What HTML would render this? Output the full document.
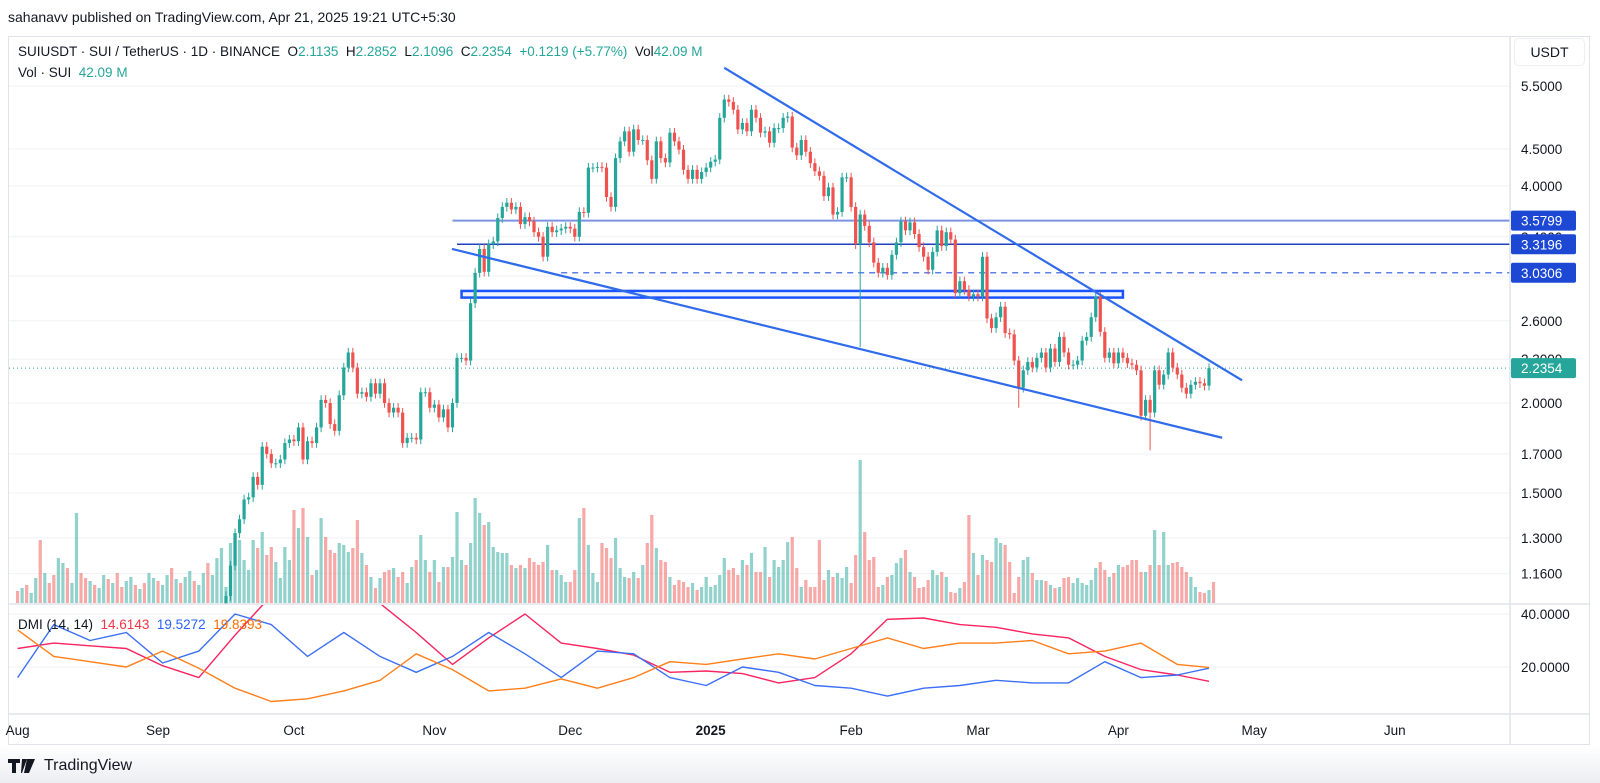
<!DOCTYPE html>
<html><head><meta charset="utf-8">
<style>
html,body{margin:0;padding:0;background:#fff;}
body{width:1600px;height:783px;overflow:hidden;position:relative;font-family:"Liberation Sans",Arial,sans-serif;color:#131722;}
.hdr{position:absolute;left:8px;top:9px;font-size:14px;color:#131722;}
.frame{position:absolute;left:8px;top:36px;width:1582px;height:709px;border:1px solid #e0e3eb;box-sizing:border-box;}
.leg{position:absolute;left:18px;font-size:13.5px;white-space:nowrap;}
.g{color:#26a69a}
.footer{position:absolute;left:0;top:745px;width:1600px;height:38px;background:linear-gradient(#fff,#eceef2);}
.tvlogo{position:absolute;left:8px;top:757px;font-size:16px;display:flex;align-items:center;gap:6px;}
.usdt{position:absolute;left:1514px;top:38px;width:71px;height:28px;border:1px solid #eceef2;border-radius:5px;box-sizing:border-box;font-size:14px;text-align:center;line-height:27px;background:#fff;}
</style></head>
<body>
<div class="hdr">sahanavv published on TradingView.com, Apr 21, 2025 19:21 UTC+5:30</div>
<div class="frame"></div>
<svg id="chart" width="1600" height="783" style="position:absolute;left:0;top:0" xmlns="http://www.w3.org/2000/svg">
<defs>
<clipPath id="mainClip"><rect x="9" y="37" width="1501" height="567"/></clipPath>
<clipPath id="dmiClip"><rect x="9" y="605" width="1501" height="109"/></clipPath>
</defs>
<g id="grid"></g>
<g id="vol" clip-path="url(#mainClip)"></g>
<g id="lev" clip-path="url(#mainClip)"></g>
<g id="cand" clip-path="url(#mainClip)"></g>
<g id="draw" clip-path="url(#mainClip)"></g>
<g id="dmi" clip-path="url(#dmiClip)"></g>
<g id="axis"></g>
</svg>
<div class="leg" style="top:44px">SUIUSDT · SUI / TetherUS · 1D · BINANCE&nbsp; O<span class="g">2.1135</span>&nbsp; H<span class="g">2.2852</span>&nbsp; L<span class="g">2.1096</span>&nbsp; C<span class="g">2.2354</span>&nbsp; <span class="g">+0.1219 (+5.77%)</span>&nbsp; Vol<span class="g">42.09 M</span></div>
<div class="leg" style="top:65px">Vol · SUI&nbsp; <span class="g">42.09 M</span></div>
<div class="leg" style="top:617px;font-size:13.5px">DMI (14, 14)&nbsp; <span style="color:#f23645">14.6143</span>&nbsp; <span style="color:#2962ff">19.5272</span>&nbsp; <span style="color:#ff6d00">19.8393</span></div>
<div class="usdt">USDT</div>
<div class="footer"></div>
<div class="tvlogo"><svg width="30" height="14" viewBox="0 0 30 14"><path d="M0 0h12v4H8v10H4V4H0z M14 0h5l-5 14h-1z" fill="#131722"/><circle cx="17" cy="3" r="0"/><path d="M19 0h8l-6 14h-5z" fill="#131722"/></svg><span>TradingView</span></div>
<script>
// ---- data ----
const closes=[1.08,1.19,1.32,1.38,1.47,1.48,1.58,1.54,1.74,1.70,
1.65,1.65,1.67,1.76,1.78,1.77,1.85,1.67,1.77,1.76,
1.85,2.02,2.00,1.87,1.83,2.05,2.24,2.35,2.24,2.06,
2.07,2.04,2.13,2.06,2.13,2.00,1.94,1.97,1.94,1.76,
1.79,1.79,1.78,2.07,2.07,1.97,1.99,1.91,1.96,1.85,
2.00,2.31,2.31,2.29,2.75,3.03,3.27,3.04,3.32,3.35,
3.61,3.74,3.79,3.71,3.74,3.54,3.62,3.57,3.45,3.40,
3.19,3.51,3.45,3.47,3.49,3.51,3.49,3.40,3.68,3.67,
4.24,4.24,4.25,4.24,3.86,3.74,4.37,4.61,4.76,4.46,
4.79,4.63,4.63,4.34,4.09,4.61,4.37,4.31,4.74,4.61,
4.49,4.21,4.09,4.21,4.09,
4.18,4.24,4.32,4.35,4.97,5.27,5.23,5.10,4.79,4.89,
4.76,5.10,4.97,4.74,4.76,4.59,4.81,4.81,4.97,4.99,
4.52,4.41,4.63,4.46,4.30,4.19,4.13,3.87,3.98,3.65,
3.68,4.11,4.11,3.74,3.32,3.65,3.52,3.34,3.13,3.03,
3.08,3.01,3.21,3.34,3.57,3.47,3.56,3.43,3.29,3.19,
3.06,3.24,3.47,3.30,3.45,3.37,2.84,2.95,2.87,2.81,
2.83,2.81,3.19,2.62,2.54,2.63,2.72,2.50,2.49,2.29,
2.10,2.22,2.28,2.24,2.31,2.35,2.24,2.38,2.28,2.47,
2.35,2.26,2.26,2.29,2.44,2.47,2.63,2.81,2.51,2.31,
2.35,2.27,2.35,2.31,2.27,2.26,2.22,1.92,2.02,1.94,
2.22,2.12,2.19,2.35,2.24,2.19,2.10,2.06,2.12,2.14,
2.13,2.1135,2.2354];
const firstDay=46; // Sep 16 (days since Aug 1)
const firstOpen=1.02;
const wickIdx=[140,175,204];
const wickLow=[2.39,1.97,1.72];
const earlyVolumes=[24,30,36,20,50,126,60,40,56,90,80,70,40,180,60,50,44,36,30,56,48,40,60,32,44,52,36,28,40,60,50,44,36,56,70,48,40,52,64,44,36,60,80,56,90,110];
const earlyUp=[0,1,0,1,1,0,1,0,0,1,1,0,1,1,0,0,1,0,1,1,0,1,0,0,1,1,0,1,0,1,1,0,1,1,0,1,0,1,1,0,1,1,0,1,1,1];
const volumes=[32,120,140,126,86,66,126,110,142,96,112,82,50,112,86,186,150,190,132,56,66,170,132,106,100,120,116,102,110,166,100,76,52,30,50,62,66,70,52,62,40,72,86,136,86,62,86,42,72,72,92,182,86,76,120,210,180,156,162,112,102,100,100,76,70,76,70,90,82,76,82,116,66,66,56,42,42,66,170,190,116,60,42,120,110,90,130,70,52,50,62,50,76,120,176,110,86,82,52,36,46,42,32,40,26,
32,52,32,36,56,90,66,70,56,86,76,100,62,62,112,52,86,72,86,122,132,70,32,46,32,32,126,46,66,52,60,50,72,40,96,286,142,86,92,32,36,52,56,80,90,106,62,52,30,32,46,66,56,62,52,22,20,30,42,176,100,56,96,86,82,130,120,116,82,20,52,86,92,60,46,46,44,36,30,32,50,52,40,50,40,36,46,70,82,66,52,60,76,72,76,86,86,62,62,76,146,76,142,76,80,82,72,62,52,32,22,20,26,42];
const dmiDays=[0,8,16,24,32,40,48,56,64,72,80,88,96,104,112,120,128,136,144,152,160,168,176,184,192,200,208,216,224,232,240,248,256,263];
const adx=[34,24,22,20,26,19.5,12,7,8,11,15,25,19,11,12,15.5,12,16,22,21,23,25,23,27,31,27,29,29,30,25,26,29,21,19.84];
const plusDI=[16,36,30,33,21.5,26,40,36,24,33,24,18,24,33,25,16,26,25,16,13,20,18,13,12,9,12,13,15,14,14,22,16,17,19.53];
const minusDI=[27,29,28,27,20.5,16,32,47,54,52,44,33,21,31,40,29,27,24.5,18,18.5,17.5,14,16,25,38,38.5,36,35,32.5,31,24,19,17,14.61];
const priceTicks=[5.5,4.5,4.0,3.4,3.0,2.6,2.3,2.0,1.7,1.5,1.3,1.16];
const dmiTicks=[40,20];
const monthLabels=["Aug","Sep","Oct","Nov","Dec","2025","Feb","Mar","Apr","May","Jun"];
const monthDays=[0,31,61,92,122,153,184,212,243,273,304];
const levelPrices=[3.5799,3.3196,3.0306];
const levelStartDays=[96,97,120];
const zoneTop=2.86, zoneBottom=2.80, zoneStartDay=98, zoneEndDay=244;
const upperLineDays=[156,270.3], upperLinePrices=[5.83,2.15];
const lowerLineDays=[95.9,265.9], lowerLinePrices=[3.27,1.79];
const lastPrice=2.2354;

// ---- scales ----
const xDay=d=>17.6+4.53*d;
const yP=p=>403-313.3*Math.log(p/2);
const yD=v=>720-2.65*v;
const yV=v=>603-v*0.5;
const NS="http://www.w3.org/2000/svg";
function mk(parent,tag,attrs){const e=document.createElementNS(NS,tag);for(const k in attrs)e.setAttribute(k,attrs[k]);document.getElementById(parent).appendChild(e);return e;}
const UP="#26a69a",DN="#ef5350";

// grid + price axis
priceTicks.forEach(p=>{
  const y=yP(p);
  const l=mk('grid','line',{x1:9,x2:1510,y1:y,y2:y,stroke:'#f0f2f5','stroke-width':1});
  
  
  const t=mk('axis','text',{x:1521,y:y+5,'font-size':'13.5','font-family':'Liberation Sans, sans-serif',fill:'#131722'});
  t.textContent=p.toFixed(4);
  
  
});
dmiTicks.forEach(v=>{
  const y=yD(v);
  const l=mk('grid','line',{x1:9,x2:1510,y1:y,y2:y,stroke:'#f0f2f5','stroke-width':1});
  
  
  const t=mk('axis','text',{x:1521,y:y+5,'font-size':'13.5','font-family':'Liberation Sans, sans-serif',fill:'#131722'});
  t.textContent=v.toFixed(4);
  
  
});
// separators
[[9,1590,604,604],[9,1590,714,714],[1510,1510,37,745]].forEach(s=>{
  const l=mk('axis','line',{x1:s[0],x2:s[1],y1:s[2],y2:s[3],stroke:'#e0e3eb','stroke-width':1.5});
  
  
});
// time axis
monthLabels.forEach((m,i)=>{
  const t=mk('axis','text',{x:xDay(monthDays[i]),y:735,'font-size':'13.5','text-anchor':'middle','font-family':'Liberation Sans, sans-serif',fill:'#131722','font-weight':m==='2025'?'bold':'normal'});
  t.textContent=m;
  
  
});

// volumes
earlyVolumes.forEach((v,i)=>{
  const x=xDay(i);
  const r=mk('vol','rect',{x:x-1.6,y:yV(v),width:3.2,height:603-yV(v),fill:earlyUp[i]?'rgba(38,166,154,0.5)':'rgba(239,83,80,0.5)'});
  
  
});
volumes.forEach((v,i)=>{
  const o=i?closes[i-1]:firstOpen, c=closes[i];
  const x=xDay(firstDay+i);
  const r=mk('vol','rect',{x:x-1.6,y:yV(v),width:3.2,height:603-yV(v),fill:c>=o?'rgba(38,166,154,0.5)':'rgba(239,83,80,0.5)'});
  
  
});

// levels
const levStyles=[{s:'#7b93e0',w:2,d:''},{s:'#1f3fbf',w:1.5,d:''},{s:'#5d7fe6',w:1.5,d:'6 5'}];
levelPrices.forEach((p,i)=>{
  const y=yP(p);
  const l=mk('lev','line',{x1:xDay(levelStartDays[i]),x2:1510,y1:y,y2:y,stroke:levStyles[i].s,'stroke-width':levStyles[i].w,'stroke-dasharray':levStyles[i].d});
  
  
});
const zr=mk('lev','rect',{x:xDay(zoneStartDay),y:yP(zoneTop),width:xDay(zoneEndDay)-xDay(zoneStartDay),height:yP(zoneBottom)-yP(zoneTop),fill:'rgba(41,98,255,0.08)',stroke:'#1a53ff','stroke-width':2.5});


const lp=mk('lev','line',{x1:9,x2:1510,y1:yP(lastPrice),y2:yP(lastPrice),stroke:'#26a69a','stroke-width':1,'stroke-dasharray':'1 3'});



// candles
closes.forEach((c,i)=>{
  const o=i?closes[i-1]:firstOpen;
  const up=c>=o, col=up?UP:DN;
  const x=xDay(firstDay+i);
  let hi=Math.max(o,c)*1.015, lo=Math.min(o,c)*0.985;
  const wi=wickIdx.indexOf(i); if(wi>=0) lo=wickLow[wi];
  const w=mk('cand','line',{x1:x,x2:x,y1:yP(hi),y2:yP(lo),stroke:col,'stroke-width':1});
  
  
  const yt=yP(Math.max(o,c)), yb=yP(Math.min(o,c));
  const b=mk('cand','rect',{x:x-1.6,y:yt,width:3.2,height:Math.max(1,yb-yt),fill:col});
  
  
});

// trendlines
[[upperLineDays,upperLinePrices,'upper-trendline'],[lowerLineDays,lowerLinePrices,'lower-trendline']].forEach(t=>{
  const l=mk('draw','line',{x1:xDay(t[0][0]),y1:yP(t[1][0]),x2:xDay(t[0][1]),y2:yP(t[1][1]),stroke:'#2f6bea','stroke-width':2.2});
  
  
});

// DMI
[[minusDI,'#f7245f','minus-di-line'],[plusDI,'#3b6ff5','plus-di-line'],[adx,'#ff7f1a','adx-line']].forEach(s=>{
  const pts=s[0].map((v,i)=>xDay(dmiDays[i]).toFixed(1)+','+yD(v).toFixed(1)).join(' ');
  const pl=mk('dmi','polyline',{points:pts,fill:'none',stroke:s[1],'stroke-width':1.4,'stroke-linejoin':'round'});
  
  
});

// price label boxes
const boxes=[[3.5799,'#1c48d4'],[3.3196,'#1c48d4'],[3.0306,'#1c48d4'],[2.2354,'#26a69a']];
boxes.forEach(b=>{
  const y=yP(b[0]);
  const r=mk('axis','rect',{x:1511,y:y-10,width:65,height:20,rx:2,fill:b[1]});
  
  
  const t=mk('axis','text',{x:1521,y:y+5,'font-size':'13.5','font-family':'Liberation Sans, sans-serif',fill:'#fff'});
  t.textContent=b[0].toFixed(4);
  
  
});
</script>
</body></html>
